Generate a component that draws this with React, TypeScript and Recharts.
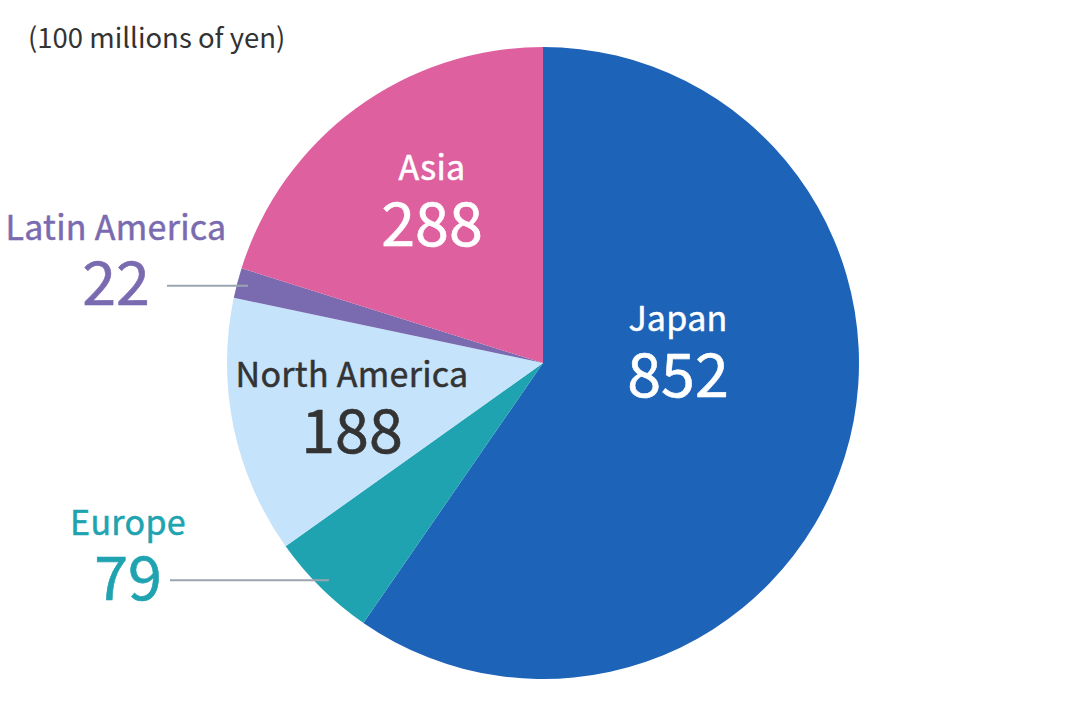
import React from 'react';
import { PieChart, Pie, Cell } from 'recharts';

const regions = ['Japan', 'Europe', 'North America', 'Latin America', 'Asia'];
const values = [852, 79, 188, 22, 288];
const colors = ['#1d63b8', '#20a3b0', '#c5e3fb', '#7a6bb0', '#de609f'];
const textColors = ['#ffffff', '#20a3b0', '#333333', '#7a6bb0', '#ffffff'];
const unitLabel = '(100 millions of yen)';

// label anchors: inside = relative to pie center; outside = absolute text column
const labelMode = ['inside', 'outside', 'inside', 'outside', 'inside'];
const labelAnchor: [number, number][] = [
  [135, -32],
  [128, 535],
  [-191, 24],
  [116, 240],
  [-111, -183],
];
const leaderGap = [0, 42, 0, 51, 0];

const data = regions.map((name, i) => ({ name, value: values[i] }));

const FONT = '"Noto Sans CJK JP", "Noto Sans", sans-serif';
const NAME_SIZE = 34;
const VALUE_SIZE = 61;

const renderLabel = (props: any) => {
  const { cx, cy, midAngle, outerRadius, index } = props;
  const mode = labelMode[index];
  const color = textColors[index];
  const [ax, ay] = labelAnchor[index];
  const nameProps = { textAnchor: 'middle' as const, fill: color, stroke: color, strokeWidth: 0.5, fontSize: NAME_SIZE, fontFamily: FONT, letterSpacing: 0.3 };
  const valueProps = { textAnchor: 'middle' as const, fill: color, stroke: color, strokeWidth: 0.6, fontSize: VALUE_SIZE, fontFamily: FONT };
  if (mode === 'inside') {
    const x = cx + ax;
    const nameY = cy + ay;
    return (
      <g>
        <text x={x} y={nameY} {...nameProps}>{regions[index]}</text>
        <text x={x} y={nameY + 66} {...valueProps}>{values[index]}</text>
      </g>
    );
  }
  const RAD = Math.PI / 180;
  const r = outerRadius * 0.965;
  const px = cx + r * Math.cos(-midAngle * RAD);
  const py = cy + r * Math.sin(-midAngle * RAD);
  const x = ax;
  const nameY = ay;
  const valueY = nameY + 65;
  return (
    <g>
      <text x={x} y={nameY} {...nameProps}>{regions[index]}</text>
      <text x={x} y={valueY} {...valueProps}>{values[index]}</text>
      <line x1={x + leaderGap[index]} y1={py} x2={px} y2={py} stroke="#9aa5b1" strokeWidth={2} />
    </g>
  );
};

export default function App() {
  return (
    <div style={{ position: 'absolute', left: 0, top: 0, width: 1080, height: 720, background: '#fff' }}>
      <PieChart width={1080} height={720} margin={{ top: 0, right: 0, bottom: 0, left: 0 }}>
        <text x={28} y={48} fill="#333333" fontSize={27.5} fontFamily={FONT}>
          {unitLabel}
        </text>
        <Pie
          data={data}
          dataKey="value"
          nameKey="name"
          cx={543}
          cy={363}
          outerRadius={316}
          startAngle={90}
          endAngle={-270}
          stroke="none"
          isAnimationActive={false}
          label={renderLabel}
          labelLine={false}
        >
          {data.map((d, i) => (
            <Cell key={d.name} fill={colors[i]} />
          ))}
        </Pie>
      </PieChart>
    </div>
  );
}
